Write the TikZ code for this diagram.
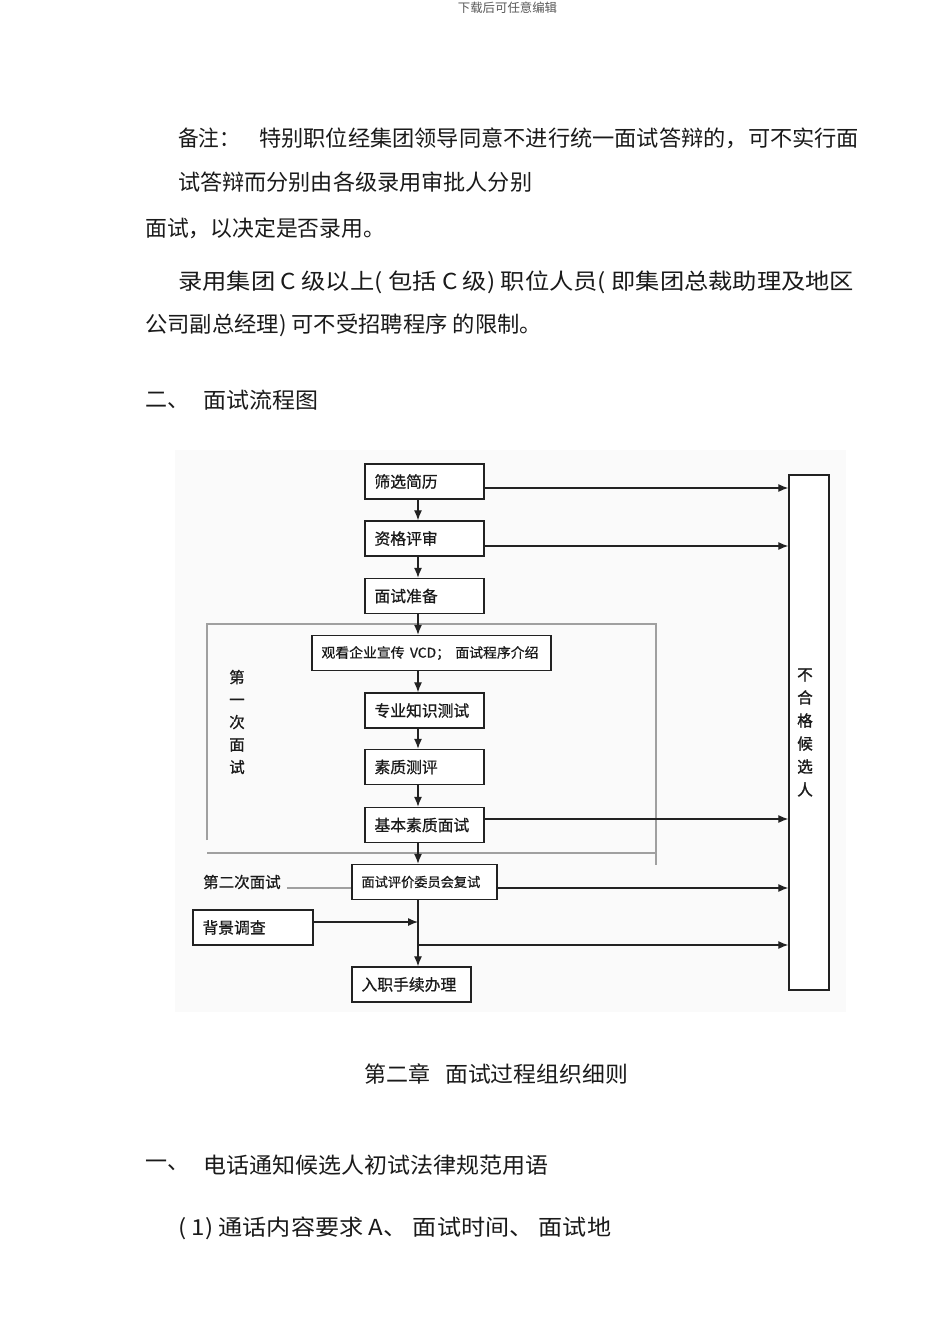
\documentclass[tikz,border=0pt]{standalone}
\usepackage{fontspec}
\usepackage{graphicx}
\usetikzlibrary{arrows.meta}
\newfontfamily\cjk{Noto Sans CJK SC}
\newfontfamily\cjkm[FakeBold=0.7]{Noto Sans CJK SC}
\newfontfamily\cjkb[FakeBold=1.5]{Noto Sans CJK SC}
\newcommand\fitw[2]{\resizebox{#1pt}{\height}{#2}}
\definecolor{ink}{HTML}{222222}
\definecolor{framegray}{HTML}{A0A0A0}
\definecolor{txt}{HTML}{1A1A1A}
\definecolor{chartbg}{HTML}{FAFAFA}
\begin{document}
\begin{tikzpicture}[x=1pt,y=-1pt,
  body/.style={anchor=west, inner sep=0pt, text=txt, font=\cjk\fontsize{22}{22}\selectfont},
  fbox/.style={draw=ink, line width=1.4pt, fill=white, inner xsep=9.5pt, inner ysep=0pt, minimum height=35pt, align=left, font=\cjkm\fontsize{15.8}{15.8}\selectfont, text=txt},
  arr/.style={draw=ink, line width=1.2pt, -{Latex[length=10pt,width=8pt]}},
  grp/.style={draw=framegray, line width=1.4pt},
  lbl/.style={inner sep=0pt, font=\cjkm\fontsize{15.5}{15.5}\selectfont, text=txt}
]
\fill[white] (0,0) rectangle (950,1344);
\useasboundingbox (0,0) rectangle (950,1344);

% header
\node[inner sep=0pt, text=black!65, font=\cjk\fontsize{12.4}{12.4}\selectfont] (hdr) at (507.5,8) {下载后可任意编辑};

% body text
\node[body] (t1a) at (178,138) {\fitw{62}{备注：}};
\node[body] (t1b) at (259,138) {\fitw{600}{特别职位经集团领导同意不进行统一面试答辩的，可不实行面}};
\node[body] (t2) at (178,182) {\fitw{354}{试答辩而分别由各级录用审批人分别}};
\node[body] (t3) at (145,228) {\fitw{240}{面试，以决定是否录用。}};
\node[body] (t4) at (178,282) {\fitw{676}{录用集团 C 级以上( 包括 C 级) 职位人员( 即集团总裁助理及地区}};
\node[body] (t5) at (145,325) {\fitw{397}{公司副总经理) 可不受招聘程序 的限制。}};
\node[body] (t6a) at (145,400) {二、};
\node[body] (t6b) at (203,400) {\fitw{115}{面试流程图}};

% chart background
\fill[chartbg] (175,450) rectangle (846,1012);

% group frame (first interview)
\draw[grp] (207,840) -- (207,624) -- (656,624) -- (656,865);
\draw[grp] (207,853) -- (656,853);

% boxes
\coordinate (sp) at (418,0);
\node[fbox, text width=100pt] (s1) at (424.5,481.5) {筛选简历};
\node[fbox, text width=100pt] (s2) at (424.5,538.5) {资格评审};
\node[fbox, text width=100pt] (s3) at (424.5,596) {面试准备};
\node[fbox, text width=220pt] (s4) at (431.5,653) {\fitw{217}{\fontsize{13.5}{13.5}\selectfont 观看企业宣传 VCD； 面试程序介绍}};
\node[fbox, text width=100pt] (s5) at (424.5,710.5) {专业知识测试};
\node[fbox, text width=100pt] (s6) at (424.5,767) {素质测评};
\node[fbox, text width=100pt] (s7) at (424.5,825) {基本素质面试};
\node[fbox, text width=126pt, font=\cjkm\fontsize{13.2}{13.2}\selectfont] (s8) at (424.5,882) {面试评价委员会复试};
\node[fbox, text width=101pt] (bg) at (253,927.5) {背景调查};
\node[fbox, text width=100pt] (s9) at (411.5,984.5) {入职手续办理};
\node[draw=ink, line width=1.4pt, fill=white, minimum width=40pt, minimum height=515pt, inner sep=0pt] (rej) at (809,732.5) {};
\node[inner sep=0pt, align=center, text=txt, font=\cjkb\fontsize{15.5}{23}\selectfont] (rejt) at (805,732.5) {不\\合\\格\\候\\选\\人};

% labels
\node[lbl, align=center, font=\cjkm\fontsize{15.5}{22.5}\selectfont] (l1) at (237,722) {第\\一\\次\\面\\试};
\node[lbl, anchor=west] (l2) at (203,882) {第二次面试};
\draw[draw=framegray, line width=1.2pt] ([xshift=6pt,yshift=-6pt]l2.east) -- ([yshift=-6pt]s8.west);

% spine arrows
\draw[arr] (s1.south -| sp) -- (s2.north -| sp);
\draw[arr] (s2.south -| sp) -- (s3.north -| sp);
\draw[arr] (s3.south -| sp) -- (s4.north -| sp);
\draw[arr] (s4.south -| sp) -- (s5.north -| sp);
\draw[arr] (s5.south -| sp) -- (s6.north -| sp);
\draw[arr] (s6.south -| sp) -- (s7.north -| sp);
\draw[arr] (s7.south -| sp) -- (s8.north -| sp);
\draw[arr] (s8.south -| sp) -- (s9.north -| sp);
\draw[arr] ([yshift=5.5pt]bg.east) -- ([yshift=5.5pt]bg.east -| sp);

% arrows to rejected candidates
\draw[arr] ([yshift=-6.5pt]s1.east) -- ([yshift=-6.5pt]s1.east -| rej.west);
\draw[arr] ([yshift=-7.5pt]s2.east) -- ([yshift=-7.5pt]s2.east -| rej.west);
\draw[arr] ([yshift=6pt]s7.east) -- ([yshift=6pt]s7.east -| rej.west);
\draw[arr] ([yshift=-6pt]s8.east) -- ([yshift=-6pt]s8.east -| rej.west);
\coordinate (j) at (418,945);
\draw[arr] (j) -- (j -| rej.west);

% lower text
\node[body] (t7a) at (364,1074) {\fitw{66}{第二章}};
\node[body] (t7b) at (445,1074) {\fitw{183}{面试过程组织细则}};
\node[body] (t8a) at (145,1165) {一、};
\node[body] (t8b) at (203,1165) {\fitw{345}{电话通知候选人初试法律规范用语}};
\node[body] (t9) at (178,1228) {\fitw{433}{( 1) 通话内容要求 A、 面试时间、 面试地}};
\end{tikzpicture}
\end{document}
